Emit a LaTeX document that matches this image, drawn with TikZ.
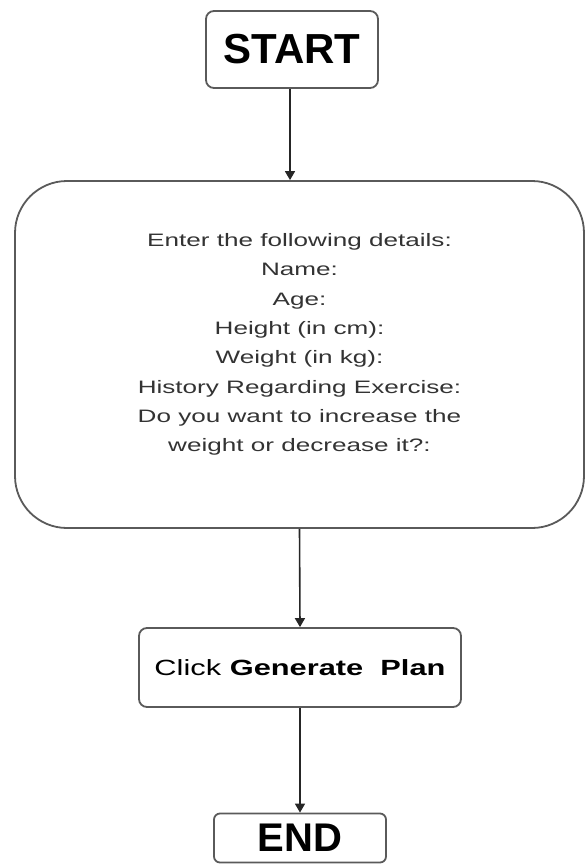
\documentclass[tikz,border=0pt]{standalone}
\usepackage{fontspec}
\setmainfont{Liberation Sans}
\newfontfamily\widefont[FakeStretch=1.45]{Liberation Sans}
\newfontfamily\genfont[FakeStretch=1.4]{Liberation Sans}
\usetikzlibrary{arrows.meta}
\definecolor{boxgray}{HTML}{5A5A5A}
\definecolor{textgray}{HTML}{333333}
\begin{document}
\begin{tikzpicture}[x=1pt,y=-1pt,
  box/.style={draw=boxgray, line width=1.8pt, rounded corners=8pt, fill=white, inner sep=0pt},
  flow/.style={-{Triangle[width=10pt,length=9pt]}, line width=1.6pt, draw=black!85}]
\useasboundingbox (0,0) rectangle (587,864);
\node[box, minimum width=172pt, minimum height=77pt, font={\fontsize{42}{42}\selectfont\bfseries}] (start) at (292,49.5)
  {START};
\node[box, rounded corners=52pt, minimum width=569pt, minimum height=347pt] (form) at (299.5,354.5) {};
\node[align=center, text=textgray, inner sep=0pt, font={\widefont\fontsize{18}{29.3}\selectfont}] (formtext) at (299.5,344.5)
  {Enter the following details:\\
   Name:\\
   Age:\\
   Height (in cm):\\
   Weight (in kg):\\
   History Regarding Exercise:\\
   Do you want to increase the\\
   weight or decrease it?:};
\node[box, minimum width=322pt, minimum height=79pt, font={\genfont\fontsize{22}{26}\selectfont}] (gen) at (300,667.5)
  {Click \textbf{Generate\ \ Plan}};
\node[box, rounded corners=6pt, minimum width=172pt, minimum height=49pt, font={\fontsize{40}{40}\selectfont\bfseries}] (end) at (300,838)
  {END};
\draw[flow] (start.south -| 290,0) -- (290,0 |- form.north);
\draw[flow] (form.south) -- (gen.north);
\draw[flow] (gen.south) -- (end.north);
\end{tikzpicture}
\end{document}
